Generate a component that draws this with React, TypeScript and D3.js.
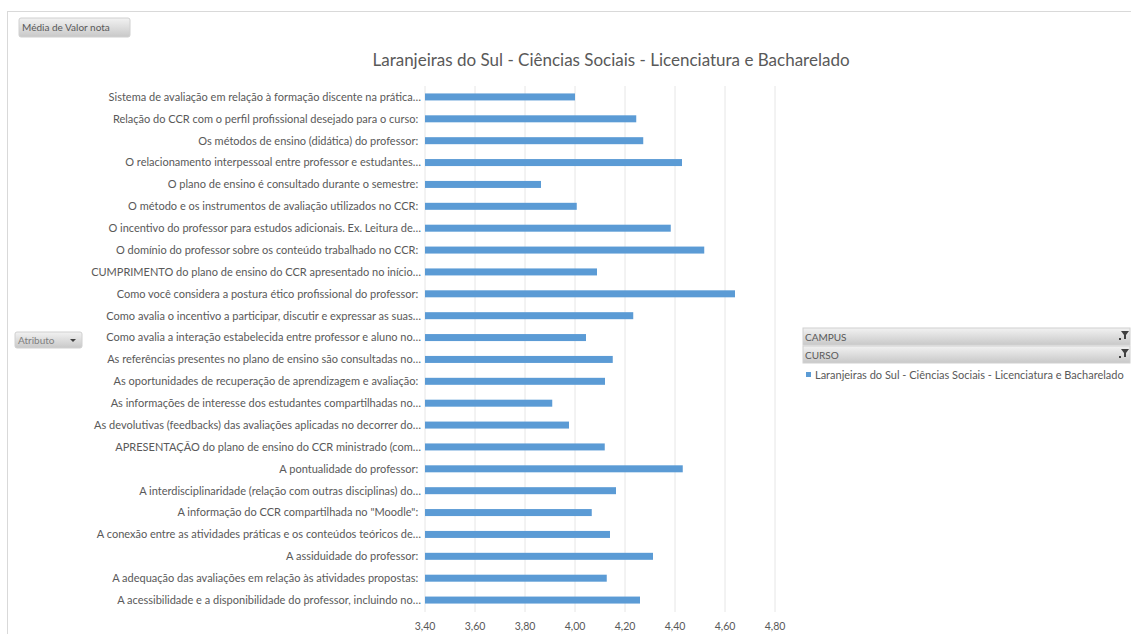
import React, { useEffect, useRef } from 'react';
import * as d3 from 'd3';

// perguntas (de cima para baixo)
const perguntas = [
  'Sistema de avaliação em relação à formação discente na prática…',
  'Relação do CCR com o perfil profissional desejado para o curso: ',
  'Os métodos de ensino (didática) do professor: ',
  'O relacionamento interpessoal entre professor e estudantes…',
  'O plano de ensino é consultado durante o semestre: ',
  'O método e os instrumentos de avaliação utilizados no CCR: ',
  'O incentivo do professor para estudos adicionais. Ex. Leitura de…',
  'O domínio do professor sobre os conteúdo trabalhado no CCR: ',
  'CUMPRIMENTO do plano de ensino do CCR apresentado no início…',
  'Como você considera a postura ético profissional do professor: ',
  'Como avalia o incentivo a participar, discutir e expressar as suas…',
  'Como avalia a interação estabelecida entre professor e aluno no…',
  'As referências presentes no plano de ensino são consultadas no…',
  'As oportunidades de recuperação de aprendizagem e avaliação: ',
  'As informações de interesse dos estudantes compartilhadas no…',
  'As devolutivas (feedbacks) das avaliações aplicadas no decorrer do…',
  'APRESENTAÇÃO do plano de ensino do CCR ministrado (com…',
  'A pontualidade do professor: ',
  'A interdisciplinaridade (relação com outras disciplinas) do…',
  'A informação do CCR compartilhada no "Moodle": ',
  'A conexão entre as atividades práticas e os conteúdos teóricos de…',
  'A assiduidade do professor: ',
  'A adequação das avaliações em relação às atividades propostas: ',
  'A acessibilidade e a disponibilidade do professor, incluindo no…',
];

// média de valor nota
const medias = [
  4.0, 4.245, 4.273, 4.428, 3.864, 4.007, 4.383, 4.517, 4.088,
  4.64, 4.233, 4.044, 4.151, 4.12, 3.909, 3.976, 4.119, 4.431,
  4.164, 4.067, 4.14, 4.312, 4.127, 4.26,
];

const ticks = [3.4, 3.6, 3.8, 4.0, 4.2, 4.4, 4.6, 4.8];

const titulo = 'Laranjeiras do Sul - Ciências Sociais - Licenciatura e Bacharelado';
const serie = 'Laranjeiras do Sul - Ciências Sociais - Licenciatura e Bacharelado';

const W = 1131;
const H = 634;
const FONT = 'Lato, "Noto Sans", sans-serif';

export default function App() {
  const svgRef = useRef<SVGSVGElement>(null);

  useEffect(() => {
    if (!svgRef.current) return;
    const svg = d3.select(svgRef.current);
    svg.selectAll('*').remove();

    const defs = svg.append('defs');
    const grad = defs.append('linearGradient')
      .attr('id', 'btn')
      .attr('x1', 0).attr('y1', 0).attr('x2', 0).attr('y2', 1);
    grad.append('stop').attr('offset', '0%').attr('stop-color', '#f2f2f2');
    grad.append('stop').attr('offset', '100%').attr('stop-color', '#c8c8c8');

    // moldura
    svg.append('rect')
      .attr('x', 7.5).attr('y', 11.5)
      .attr('width', W).attr('height', H)
      .attr('fill', '#fff')
      .attr('stroke', '#d9d9d9');

    // escalas
    const x = d3.scaleLinear().domain([3.4, 4.8]).range([425, 775]);
    const y = d3.scaleBand<string>()
      .domain(perguntas)
      .range([86, 611])
      .paddingInner(0.68)
      .paddingOuter(0.34);

    // grade
    svg.append('g')
      .selectAll('line')
      .data(ticks)
      .join('line')
      .attr('x1', d => x(d)).attr('x2', d => x(d))
      .attr('y1', 86).attr('y2', 612)
      .attr('stroke', '#e6e6e6')
      .attr('stroke-width', 1);

    // rótulos do eixo x
    svg.append('g')
      .selectAll('text')
      .data(ticks)
      .join('text')
      .attr('x', d => x(d))
      .attr('y', 630)
      .attr('text-anchor', 'middle')
      .attr('font-family', FONT)
      .attr('font-size', 10.5)
      .attr('fill', '#595959')
      .text(d => d3.format('.2f')(d).replace('.', ','));

    // barras
    svg.append('g')
      .selectAll('rect')
      .data(perguntas)
      .join('rect')
      .attr('x', x(3.4))
      .attr('y', d => y(d)!)
      .attr('width', (d, i) => x(medias[i]) - x(3.4))
      .attr('height', y.bandwidth())
      .attr('fill', '#5b9bd5');

    // rótulos das categorias
    svg.append('g')
      .selectAll('text')
      .data(perguntas)
      .join('text')
      .attr('x', 421)
      .attr('y', d => y(d)! + y.bandwidth() / 2)
      .attr('dy', '0.35em')
      .attr('text-anchor', 'end')
      .attr('font-family', FONT)
      .attr('font-size', 11)
      .attr('fill', '#595959')
      .style('white-space', 'pre')
      .text(d => d);

    // título
    svg.append('text')
      .attr('x', 611)
      .attr('y', 66)
      .attr('text-anchor', 'middle')
      .attr('font-family', FONT)
      .attr('font-size', 17)
      .attr('fill', '#595959')
      .text(titulo);

    // botão "Média de Valor nota"
    const b1 = svg.append('g');
    b1.append('rect')
      .attr('x', 19).attr('y', 18).attr('width', 111).attr('height', 19)
      .attr('rx', 2)
      .attr('fill', 'url(#btn)')
      .attr('stroke', '#d0d0d0');
    b1.append('text')
      .attr('x', 22).attr('y', 31)
      .attr('font-family', FONT)
      .attr('font-size', 10)
      .attr('fill', '#595959')
      .text('Média de Valor nota');

    // botão "Atributo"
    const b2 = svg.append('g');
    b2.append('rect')
      .attr('x', 15).attr('y', 332).attr('width', 67).attr('height', 16)
      .attr('rx', 2)
      .attr('fill', 'url(#btn)')
      .attr('stroke', '#d0d0d0');
    b2.append('text')
      .attr('x', 18).attr('y', 344)
      .attr('font-family', FONT)
      .attr('font-size', 10)
      .attr('fill', '#7f7f7f')
      .text('Atributo');
    b2.append('path')
      .attr('d', 'M70,339 L76,339 L73,342 Z')
      .attr('fill', '#404040');

    // filtros CAMPUS / CURSO
    const filtros = ['CAMPUS', 'CURSO'];
    const fg = svg.append('g')
      .selectAll('g')
      .data(filtros)
      .join('g')
      .attr('transform', (d, i) => `translate(803,${328 + i * 18})`);
    fg.append('rect')
      .attr('width', 327).attr('height', 17)
      .attr('fill', 'url(#btn)')
      .attr('stroke', '#d0d0d0');
    fg.append('text')
      .attr('x', 2).attr('y', 12.5)
      .attr('font-family', FONT)
      .attr('font-size', 10)
      .attr('fill', '#595959')
      .text(d => d);
    fg.append('path')
      .attr('d', 'M318,3 L326,3 L323,7 L323,11 L321,11 L321,7 Z')
      .attr('fill', '#404040');
    fg.append('rect')
      .attr('x', 316).attr('y', 10).attr('width', 2).attr('height', 2)
      .attr('fill', '#404040');

    // legenda
    svg.append('rect')
      .attr('x', 806).attr('y', 372).attr('width', 5).attr('height', 5)
      .attr('fill', '#5b9bd5');
    svg.append('text')
      .attr('x', 815).attr('y', 378.5)
      .attr('font-family', FONT)
      .attr('font-size', 11)
      .attr('fill', '#595959')
      .text(serie);
  }, []);

  return (
    <div style={{ position: 'absolute', left: 0, top: 0, width: W, height: H, overflow: 'hidden', background: '#fff' }}>
      <svg ref={svgRef} width={W} height={H} />
    </div>
  );
}
